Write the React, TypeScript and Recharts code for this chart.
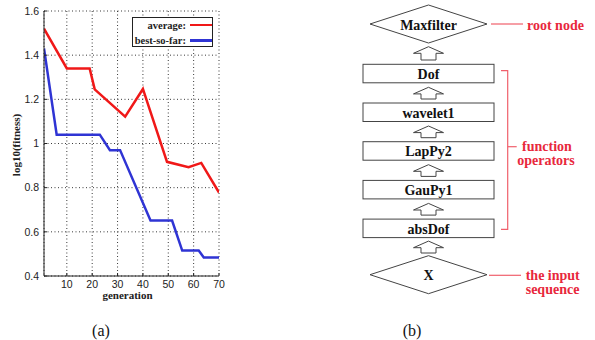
import React from 'react';
import { CartesianGrid, Legend, Line, LineChart, XAxis, YAxis } from 'recharts';

// generation / log10(fitness)
const avgGen = [1, 10, 19, 21, 33, 40, 49.5, 58, 63, 70];
const avgFit = [1.52, 1.34, 1.34, 1.245, 1.122, 1.247, 0.917, 0.893, 0.912, 0.778];
const bestGen = [1, 6, 23, 27, 31, 43, 51.5, 55.5, 62, 64, 70];
const bestFit = [1.43, 1.04, 1.04, 0.97, 0.97, 0.651, 0.651, 0.515, 0.515, 0.484, 0.484];
const genTicks = [10, 20, 30, 40, 50, 60, 70];
const fitTicks = [0.4, 0.6, 0.8, 1, 1.2, 1.4, 1.6];

// panel (b) tree, top to bottom
const rootLabel = 'Maxfilter';
const operators = ['Dof', 'wavelet1', 'LapPy2', 'GauPy1', 'absDof'];
const inputLabel = 'X';

const avgData = avgGen.map((g, i) => ({ gen: g, fit: avgFit[i] }));
const bestData = bestGen.map((g, i) => ({ gen: g, fit: bestFit[i] }));

const SERIF = "'Liberation Serif', 'Times New Roman', serif";
const SANS = "'Liberation Sans', Arial, sans-serif";
const RED = '#f01818';
const BLUE = '#2f34d4';
const NOTE = '#e8283c';
const NOTE_LINE = '#f0606c';

const tickStyle = { fontSize: 10.5, fontFamily: SANS, fill: '#222' };

const renderLegend = (props: any) => {
  const items = props.payload || [];
  return (
    <div style={{ position: 'relative', width: 81, height: 30, boxSizing: 'border-box', border: '1px solid #222', background: 'white' }}>
      {items.map((it: any, i: number) => (
        <div key={it.value} style={{ position: 'absolute', left: 0, top: i * 15.3, height: 14, width: 81, display: 'flex', alignItems: 'center' }}>
          <span style={{ width: 53, textAlign: 'right', fontFamily: SERIF, fontWeight: 'bold', fontSize: 10.5, color: '#222', whiteSpace: 'nowrap' }}>
            {it.value}
          </span>
          <span style={{ marginLeft: 3.5, width: 22, height: 2.5, background: it.color }} />
        </div>
      ))}
    </div>
  );
};

const YLabel = (props: any) => {
  const { viewBox } = props;
  const x = viewBox.x + 16;
  const y = viewBox.y + viewBox.height / 2 + 1.5;
  return (
    <text x={x} y={y} transform={`rotate(-90 ${x} ${y})`} textAnchor="middle" dominantBaseline="central"
      fontFamily={SERIF} fontWeight="bold" fontSize={11} fill="#222">
      log10(fitness)
    </text>
  );
};

const Arrow = ({ cx, top, bottom }: { cx: number; top: number; bottom: number }) => {
  const hb = top + 6.6;
  const d = `M${cx},${top} L${cx + 15},${hb} L${cx + 7.5},${hb} L${cx + 7.5},${bottom} L${cx - 7.5},${bottom} L${cx - 7.5},${hb} L${cx - 15},${hb} Z`;
  return <path d={d} fill="white" stroke="#444" strokeWidth={1} />;
};

const Diamond = ({ cx, cy, label }: { cx: number; cy: number; label: string }) => (
  <g>
    <polygon points={`${cx - 58.5},${cy} ${cx},${cy - 19} ${cx + 58.5},${cy} ${cx},${cy + 19}`} fill="white" stroke="#444" strokeWidth={1} />
    <text x={cx} y={cy + 1} textAnchor="middle" dominantBaseline="central" fontFamily={SERIF} fontWeight="bold" fontSize={14} fill="#111">
      {label}
    </text>
  </g>
);

const Diagram = () => {
  const cx = 428.5;
  const boxTop0 = 64.3;
  const step = 38.7;
  const boxH = 18.5;
  const boxW = 131;
  const rootCy = 24;
  const inputCy = 274.7;
  const lastBottom = boxTop0 + (operators.length - 1) * step + boxH;
  return (
    <svg width={595} height={340} style={{ position: 'absolute', left: 0, top: 0, pointerEvents: 'none' }}>
      <Diamond cx={cx} cy={rootCy} label={rootLabel} />
      <Arrow cx={cx} top={rootCy + 22.7} bottom={boxTop0 - 4.3} />
      {operators.map((name, i) => {
        const top = boxTop0 + i * step;
        return (
          <g key={name}>
            <rect x={cx - boxW / 2} y={top} width={boxW} height={boxH} fill="white" stroke="#444" strokeWidth={1} />
            <text x={cx} y={top + boxH / 2 + 1} textAnchor="middle" dominantBaseline="central" fontFamily={SERIF} fontWeight="bold" fontSize={14} fill="#111">
              {name}
            </text>
            {i < operators.length - 1 && <Arrow cx={cx} top={top + boxH + 4.5} bottom={top + step - 4} />}
          </g>
        );
      })}
      <Arrow cx={cx} top={lastBottom + 3.5} bottom={inputCy - 21.7} />
      <Diamond cx={cx} cy={inputCy} label={inputLabel} />

      {/* annotations */}
      <line x1={491} y1={rootCy} x2={523} y2={rootCy} stroke={NOTE_LINE} strokeWidth={1.2} />
      <text x={527} y={rootCy + 1} dominantBaseline="central" fontFamily={SERIF} fontWeight="bold" fontSize={14} fill={NOTE}>root node</text>

      <path d={`M501,${boxTop0 + 6.4} H507.7 V${lastBottom - 8.2} H501`} fill="none" stroke={NOTE_LINE} strokeWidth={1.2} />
      <line x1={507.7} y1={146.7} x2={516.7} y2={146.7} stroke={NOTE_LINE} strokeWidth={1.2} />
      <text x={547} y={146} textAnchor="middle" dominantBaseline="central" fontFamily={SERIF} fontWeight="bold" fontSize={14} fill={NOTE}>function</text>
      <text x={546} y={160.5} textAnchor="middle" dominantBaseline="central" fontFamily={SERIF} fontWeight="bold" fontSize={14} fill={NOTE}>operators</text>

      <line x1={489} y1={inputCy + 0.6} x2={521} y2={inputCy + 0.6} stroke={NOTE_LINE} strokeWidth={1.2} />
      <text x={525.7} y={inputCy + 1} dominantBaseline="central" fontFamily={SERIF} fontWeight="bold" fontSize={14} fill={NOTE}>the input</text>
      <text x={525.7} y={289.5} dominantBaseline="central" fontFamily={SERIF} fontWeight="bold" fontSize={14} fill={NOTE}>sequence</text>

      {/* captions */}
      <text x={101} y={330} textAnchor="middle" dominantBaseline="central" fontFamily={SERIF} fontSize={16} fill="#111">(a)</text>
      <text x={412} y={330} textAnchor="middle" dominantBaseline="central" fontFamily={SERIF} fontSize={16} fill="#111">(b)</text>
    </svg>
  );
};

export default function App() {
  return (
    <div style={{ position: 'absolute', left: 0, top: 0, width: 595, height: 340, background: 'white' }}>
      <div style={{ position: 'absolute', left: 0, top: 0 }}>
        <LineChart width={230} height={310} margin={{ top: 11, right: 11, left: 0, bottom: 0 }}>
          <CartesianGrid stroke="#222" strokeDasharray="1 2.5" strokeWidth={0.9} />
          <XAxis dataKey="gen" type="number" domain={[1, 70]} ticks={genTicks} allowDataOverflow
            height={34} stroke="#222" tickSize={-3} tickMargin={8} tick={tickStyle}
            label={{ value: 'generation', position: 'insideBottom', offset: 11, dx: -4, fontFamily: SERIF, fontWeight: 'bold', fontSize: 11, fill: '#222' }} />
          <XAxis xAxisId="t" orientation="top" type="number" domain={[1, 70]} ticks={genTicks} allowDataOverflow
            height={0} stroke="#222" tickSize={-3} tick={false} />
          <YAxis type="number" domain={[0.4, 1.6]} ticks={fitTicks} allowDataOverflow width={44}
            stroke="#222" tickSize={-3} tickMargin={8} tick={tickStyle} tickFormatter={(v: number) => String(v)}
            label={<YLabel />} />
          <YAxis yAxisId="r" orientation="right" type="number" domain={[0.4, 1.6]} ticks={fitTicks} allowDataOverflow
            width={0} stroke="#222" tickSize={-3} tick={false} />
          <Legend layout="horizontal" align="center" verticalAlign="middle" content={renderLegend}
            wrapperStyle={{ position: 'absolute', left: 132, top: 17, width: 81, height: 30 }} />
          <Line data={avgData} dataKey="fit" name="average:" stroke={RED} strokeWidth={2.5} dot={false} isAnimationActive={false} />
          <Line data={bestData} dataKey="fit" name="best-so-far:" stroke={BLUE} strokeWidth={2.5} dot={false} isAnimationActive={false} />
        </LineChart>
      </div>
      <Diagram />
    </div>
  );
}
